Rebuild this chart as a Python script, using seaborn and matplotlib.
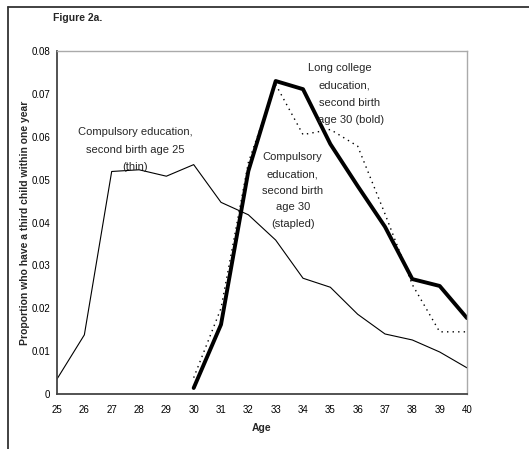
import matplotlib
matplotlib.use("Agg")
import matplotlib.pyplot as plt
from matplotlib.lines import Line2D
import pandas as pd
import seaborn as sns

ages_thin = [25, 26, 27, 28, 29, 30, 31, 32, 33, 34, 35, 36, 37, 38, 39, 40]
comp_25 = [0.0035, 0.0138, 0.0519, 0.0523, 0.0508, 0.0535, 0.0447, 0.0418,
           0.0359, 0.0270, 0.0249, 0.0186, 0.0140, 0.0126, 0.0098, 0.0061]

ages_30 = [30, 31, 32, 33, 34, 35, 36, 37, 38, 39, 40]
college_30 = [0.0014, 0.0162, 0.0520, 0.0730, 0.0711, 0.0583, 0.0485,
              0.0390, 0.0268, 0.0252, 0.0177]
comp_30 = [0.0038, 0.0200, 0.0540, 0.0722, 0.0605, 0.0617, 0.0578,
           0.0420, 0.0255, 0.0145, 0.0145]

y_ticks = [0, 0.01, 0.02, 0.03, 0.04, 0.05, 0.06, 0.07, 0.08]
y_labels = ["0", "0.01", "0.02", "0.03", "0.04", "0.05", "0.06", "0.07", "0.08"]

sns.set_style("white")
plt.rcParams["font.family"] = ["Liberation Sans", "DejaVu Sans"]

fig = plt.figure(figsize=(5.29, 4.49), dpi=100)
ax = fig.add_axes([0.1078, 0.1225, 0.775, 0.7639])

df_thin = pd.DataFrame({"Age": ages_thin, "p": comp_25})
df_bold = pd.DataFrame({"Age": ages_30, "p": college_30})
df_dot = pd.DataFrame({"Age": ages_30, "p": comp_30})

# fine, thin, bold -- as in the original figure
sns.lineplot(data=df_thin, x="Age", y="p", ax=ax, color="black", linewidth=0.8)
sns.lineplot(data=df_dot, x="Age", y="p", ax=ax, color="black", linewidth=1.0,
             linestyle=(0, (1, 3)))
sns.lineplot(data=df_bold, x="Age", y="p", ax=ax, color="black", linewidth=2.8)

ax.set_xlim(25, 40)
ax.set_ylim(0, 0.08)
ax.set_xticks(ages_thin)
ax.set_xticklabels([str(a) for a in ages_thin])
ax.set_yticks(y_ticks)
ax.set_yticklabels(y_labels)
ax.tick_params(axis="both", direction="inout", length=6, width=0.9,
               labelsize=7, colors="#333333", labelcolor="black", pad=2)
ax.tick_params(axis="x", pad=5)

for s in ["left", "bottom"]:
    ax.spines[s].set_color("#444444")
    ax.spines[s].set_linewidth(1.3)
for s in ["top", "right"]:
    ax.spines[s].set_color("#aaaaaa")
    ax.spines[s].set_linewidth(1.0)

ax.set_xlabel("Age", fontsize=7.5, fontweight="bold", labelpad=6)
ax.set_ylabel("Proportion who have a third child within one year", fontsize=7.5,
              fontweight="bold", labelpad=1)

fs = 8


def lines(x, ys, texts):
    for yy, t in zip(ys, texts):
        ax.text(x, yy, t, ha="center", va="center", fontsize=fs)


lines(27.85, [0.0610, 0.0570, 0.0530],
      ["Compulsory education,", "second birth age 25", "(thin)"])
ax.text(35.35, 0.0760, "Long college", ha="center", va="center", fontsize=fs)
ax.text(35.5, 0.0720, "education,", ha="center", va="center", fontsize=fs)
ax.text(35.7, 0.0678, "second birth", ha="center", va="center", fontsize=fs)
ax.text(35.75, 0.0639, "age 30 (bold)", ha="center", va="center", fontsize=fs)
lines(33.62, [0.0552, 0.0512, 0.0474, 0.0436, 0.0397],
      ["Compulsory", "education,", "second birth", "age 30", "(stapled)"])

fig.text(0.100, 0.960, "Figure 2a.", fontsize=7.5, fontweight="bold",
         ha="left", va="center")

# cropped page frame
fig.add_artist(Line2D([0.016, 1.0], [0.984, 0.984], transform=fig.transFigure,
                      color="#333333", linewidth=1.3))
fig.add_artist(Line2D([0.016, 0.016], [0.0, 0.984], transform=fig.transFigure,
                      color="#333333", linewidth=1.3))

fig.savefig("out.png", dpi=100)
